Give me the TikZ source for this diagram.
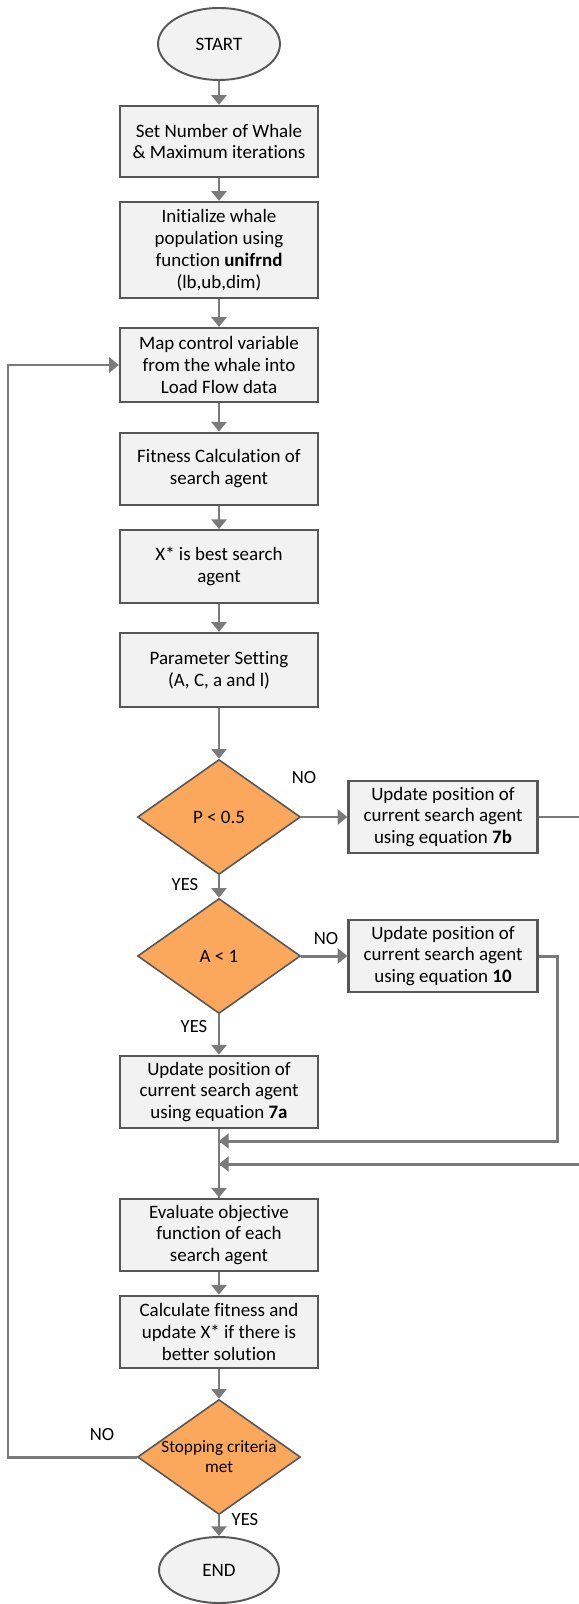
\documentclass[tikz,border=0pt]{standalone}
\usepackage{fontspec}
\setmainfont{Carlito}[Ligatures=NoCommon]
\usetikzlibrary{shapes.geometric}
\usetikzlibrary{arrows.meta}

\definecolor{boxfill}{HTML}{F2F2F2}
\definecolor{boxline}{HTML}{575757}
\definecolor{flowline}{HTML}{7A7A7A}
\definecolor{decfill}{HTML}{FCA85C}

\begin{document}
\begin{tikzpicture}[%
  >={Triangle[width=8.5pt,length=5.5pt]},
  x=0.02cm, y=-0.02cm,
  txt/.style={font=\fontsize{10.8}{12.5}\selectfont},
  terminal/.style={txt, ellipse, draw=boxline, line width=1.1pt,
    fill=boxfill, minimum width=2.44cm, minimum height=1.44cm},
  procbox/.style={txt, rectangle, draw=boxline, line width=1.3pt,
    fill=boxfill, align=center, inner sep=2pt,
    minimum width=3.96cm, minimum height=1.45cm},
  decision/.style={txt, diamond, draw=boxline, line width=0.9pt,
    fill=decfill, align=center, inner sep=0pt, aspect=1.42,
    minimum width=3.26cm, minimum height=2.3cm},
  flow/.style={draw=flowline, line width=1.7pt},
  tag/.style={font=\fontsize{10.6}{12}\selectfont},
]

  \useasboundingbox (0,0) rectangle (578,1604);

  \node[terminal] (start) at (219,44) {START};
  \node[procbox, minimum height=1.42cm] (nwhale) at (219,141.5)
    {Set Number of Whale\\\& Maximum iterations};
  \node[procbox, minimum height=1.92cm] (init) at (219,250)
    {Initialize whale\\population using\\function \textbf{unifrnd}\\(lb,ub,dim)};
  \node[procbox, minimum height=1.48cm] (map) at (219,365)
    {Map control variable\\from the whale into\\Load Flow data};
  \node[procbox] (fit) at (219,469)
    {Fitness Calculation of\\search agent};
  \node[procbox] (best) at (219,566.5)
    {X* is best search\\agent};
  \node[procbox, minimum height=1.48cm] (param) at (219,670)
    {Parameter Setting\\(A, C, a and l)};

  \node[decision] (pdec) at (219,817) {P < 0.5};
  \node[procbox, minimum width=3.78cm] (upd7b) at (443,817)
    {Update position of\\current search agent\\using equation \textbf{7b}};

  \node[decision] (adec) at (219,956) {A < 1};
  \node[procbox, minimum width=3.78cm] (upd10) at (443,956)
    {Update position of\\current search agent\\using equation \textbf{10}};

  \node[procbox] (upd7a) at (219,1092)
    {Update position of\\current search agent\\using equation \textbf{7a}};

  \node[procbox] (eval) at (219,1235)
    {Evaluate objective\\function of each\\search agent};
  \node[procbox] (calc) at (219,1332)
    {Calculate fitness and\\update X* if there is\\better solution};

  \node[decision, font=\fontsize{9.8}{11.5}\selectfont] (stop) at (219,1457)
    {Stopping criteria\\met};
  \node[terminal, minimum width=2.4cm, minimum height=1.32cm] (end) at (219,1570) {END};

  \coordinate (j10) at (219,1141);
  \coordinate (j7b) at (219,1164);
  \coordinate (r10) at (557,956);
  \coordinate (r7b) at (582,817);
  \coordinate (loop) at (8,1457);

  \draw[flow,->] (start) -- (nwhale);
  \draw[flow,->] (nwhale) -- (init);
  \draw[flow,->] (init) -- (map);
  \draw[flow,->] (map) -- (fit);
  \draw[flow,->] (fit) -- (best);
  \draw[flow,->] (best) -- (param);
  \draw[flow,->] (param) -- (pdec);
  \draw[flow,->] (pdec) -- (upd7b);
  \draw[flow,->] (pdec) -- (adec);
  \draw[flow,->] (adec) -- (upd10);
  \draw[flow,->] (adec) -- (upd7a);
  \draw[flow] (upd7a) -- (eval);
  \draw[flow,->] (j7b) -- (eval);
  \draw[flow] (upd10.east) -- (r10) |- (j10);
  \draw[flow,->] (r10 |- j10) -- (j10);
  \draw[flow] (upd7b.east) -- (r7b) |- (j7b);
  \draw[flow,->] (r7b |- j7b) -- (j7b);
  \draw[flow,->] (eval) -- (calc);
  \draw[flow,->] (calc) -- (stop);
  \draw[flow,->] (stop) -- (end);
  \draw[flow,->] (stop.west) -- (loop) |- (map.west);

  \node[tag] (no1) at (304,778) {NO};
  \node[tag] (yes1) at (185,885) {YES};
  \node[tag] (no2) at (326,939) {NO};
  \node[tag] (yes2) at (194,1027) {YES};
  \node[tag] (no3) at (102,1435) {NO};
  \node[tag] (yes3) at (245,1520) {YES};

\end{tikzpicture}
\end{document}
